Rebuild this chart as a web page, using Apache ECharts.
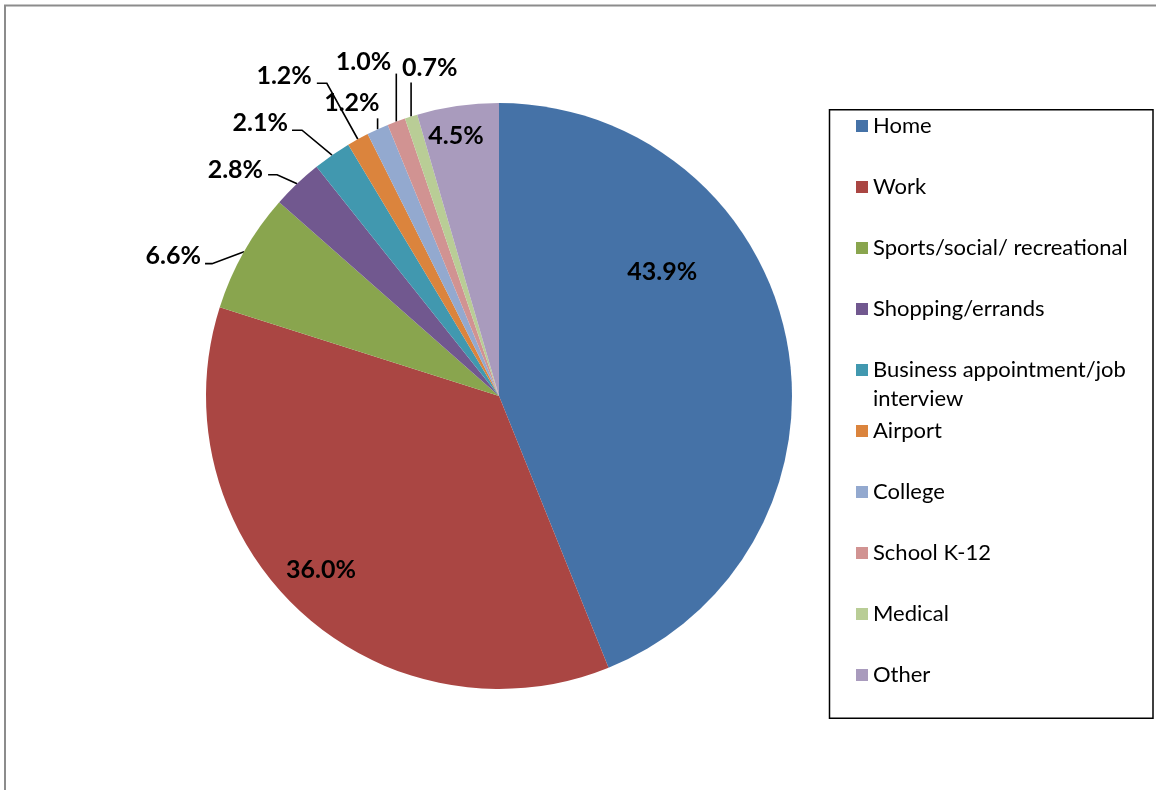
<!DOCTYPE html>
<html>
<head>
<meta charset="utf-8">
<script src="https://cdn.jsdelivr.net/npm/echarts@6/dist/echarts.min.js"></script>
<style>
  html, body { margin: 0; padding: 0; background: #ffffff; }
  #chart { width: 1156px; height: 790px; }
</style>
</head>
<body>
<div id="chart"></div>
<script>
// Trip destinations and their share of trips (%)
const categories = [
  'Home',
  'Work',
  'Sports/social/ recreational',
  'Shopping/errands',
  'Business appointment/job interview',
  'Airport',
  'College',
  'School K-12',
  'Medical',
  'Other'
];
const shares = [43.9, 36.0, 6.6, 2.8, 2.1, 1.2, 1.2, 1.0, 0.7, 4.5];

// Slice colours, one per category
const palette = ['#4572A7', '#AA4643', '#89A54E', '#71588F', '#4198AF',
                 '#DB843D', '#93A9CF', '#D19392', '#B9CD96', '#A99BBD'];

// Pie geometry (pixels)
const CX = 499, CY = 396, R = 293;

// Labels that sit inside their slice: [degrees clockwise from 12 o'clock, fraction of radius]
const insideLabelPos = { 0: [52.7, 0.70], 1: [225.6, 0.85], 9: [350.6, 0.90] };

// Callout labels: guide-line bend, guide-line end and label anchor,
// each offset from the point where the line leaves the slice edge
const calloutPos = {
  2: { bend: [-32, 12],  end: [-39, 12],  label: [-43, 4],   align: 'right' },
  3: { bend: [-20, -9],  end: [-29, -9],  label: [-34, -14], align: 'right' },
  4: { bend: [-30, -25], end: [-40, -25], label: [-44, -32], align: 'right' },
  5: { bend: [-31, -56], end: [-41, -56], label: [-46, -63], align: 'right' },
  6: { bend: [0, -11],   end: [0, -11],   label: [2, -26],   align: 'right' },
  7: { bend: [0, -48],   end: [0, -48],   label: [-5, -60],  align: 'right' },
  8: { bend: [0, -34],   end: [0, -34],   label: [-9, -49],  align: 'left' }
};

const pieData = categories.map(function (name, i) {
  const inside = insideLabelPos[i] !== undefined;
  return {
    name: name,
    value: shares[i],
    itemStyle: { color: palette[i] },
    label: { position: inside ? 'inside' : 'outside' },
    labelLine: { show: !inside }
  };
});

const legendText = { fontFamily: 'Lato', fontSize: 22, color: '#000000', lineHeight: 29 };
const legendBase = {
  orient: 'vertical',
  left: 856,
  padding: 0,
  itemWidth: 12,
  itemHeight: 12,
  itemGap: 32,
  icon: 'rect',
  selectedMode: false,
  textStyle: legendText
};

const chart = echarts.init(document.getElementById('chart'), null, { renderer: 'canvas' });

chart.setOption({
  animation: false,
  backgroundColor: '#ffffff',
  graphic: [
    {
      type: 'rect', z: -10, silent: true,
      shape: { x: 5, y: 5.5, width: 1400, height: 1000 },
      style: { fill: 'none', stroke: '#8c8c8c', lineWidth: 2 }
    },
    {
      type: 'rect', z: -5, silent: true,
      shape: { x: 829.5, y: 109.8, width: 323.5, height: 608.5 },
      style: { fill: 'none', stroke: '#000000', lineWidth: 1.5 }
    }
  ],
  legend: [
    Object.assign({}, legendBase, { top: 111.5, data: categories.slice(0, 4) }),
    Object.assign({}, legendBase, {
      top: 326.5,
      data: [categories[4]],
      // leading blank line keeps the first text line level with the swatch
      formatter: function () { return '\nBusiness appointment/job\ninterview'; }
    }),
    Object.assign({}, legendBase, { top: 416.5, data: categories.slice(5) })
  ],
  series: [{
    type: 'pie',
    center: [CX, CY],
    radius: R,
    startAngle: 90,
    clockwise: true,
    avoidLabelOverlap: false,
    emphasis: { disabled: true },
    itemStyle: { borderWidth: 0 },
    label: {
      show: true,
      formatter: function (p) { return p.value.toFixed(1) + '%'; },
      fontFamily: 'Lato',
      fontWeight: 'bold',
      fontSize: 25,
      color: '#000000'
    },
    labelLine: {
      length: 10,
      length2: 10,
      lineStyle: { color: '#000000', width: 1.6 }
    },
    labelLayout: function (p) {
      const i = p.dataIndex;
      if (insideLabelPos[i]) {
        const a = insideLabelPos[i][0] * Math.PI / 180;
        const k = insideLabelPos[i][1];
        return {
          x: CX + k * R * Math.sin(a),
          y: CY - k * R * Math.cos(a),
          align: 'center',
          verticalAlign: 'middle'
        };
      }
      const c = calloutPos[i];
      if (!c || !p.labelLinePoints) { return {}; }
      const p0 = p.labelLinePoints[0];
      const off = function (d) { return [p0[0] + d[0], p0[1] + d[1]]; };
      const lp = off(c.label);
      return {
        x: lp[0],
        y: lp[1],
        align: c.align,
        verticalAlign: 'middle',
        labelLinePoints: [p0, off(c.bend), off(c.end)]
      };
    },
    data: pieData
  }]
});
</script>
</body>
</html>
